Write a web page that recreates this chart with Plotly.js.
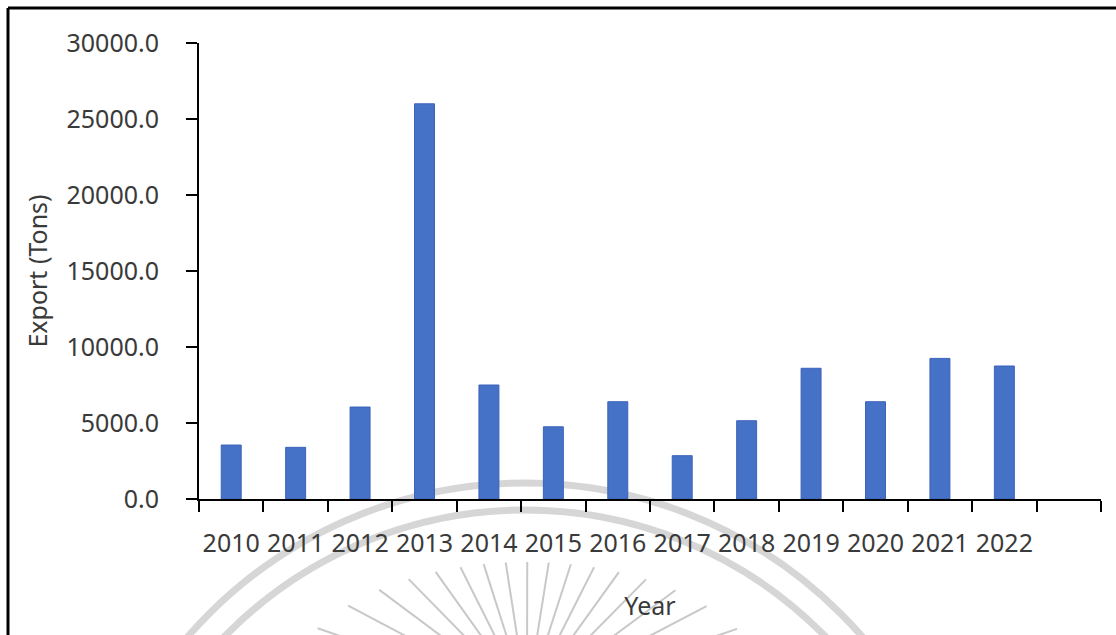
<!DOCTYPE html>
<html>
<head>
<meta charset="utf-8">
<script src="https://cdn.plot.ly/plotly-3.0.1.min.js"></script>
<style>
  html, body { margin: 0; padding: 0; background: #ffffff; }
  #chart { width: 1116px; height: 635px; }
</style>
</head>
<body>
<div id="chart"></div>
<script>
// Yearly export volume, in tons
const years = ['2010', '2011', '2012', '2013', '2014', '2015', '2016',
               '2017', '2018', '2019', '2020', '2021', '2022'];
const exportTons = [3550, 3400, 6050, 26000, 7500, 4750, 6400,
                    2850, 5150, 8600, 6400, 9250, 8750];
// one spare slot after the last year keeps the axis running on
const xCategories = years.concat([' ']);
const yTicks = [0, 5000, 10000, 15000, 20000, 25000, 30000];

// plot-area edges in page pixels
const L = 199, R = 1101, T = 43, B = 499;
const px = x => (x - L) / (R - L);
const py = y => (B - y) / (B - T);

const shapes = [];

// frame along the left and top of the figure
shapes.push({type: 'line', xref: 'paper', yref: 'paper', layer: 'above',
  x0: px(8), x1: px(8), y0: py(8), y1: py(640),
  line: {color: '#000000', width: 3}});
shapes.push({type: 'line', xref: 'paper', yref: 'paper', layer: 'above',
  x0: px(8), x1: px(1125), y0: py(8), y1: py(8),
  line: {color: '#000000', width: 3}});

// faint emblem behind the chart: two rings and a fan of rays
const cx = 525, cy = 930;
[447, 420].forEach(r => {
  shapes.push({type: 'circle', xref: 'paper', yref: 'paper', layer: 'below',
    x0: px(cx - r), x1: px(cx + r), y0: py(cy + r), y1: py(cy - r),
    line: {color: 'rgba(200,200,200,0.75)', width: 7}});
});
const rx = 527, ry = 700;
for (let a = -80; a <= 80.1; a += 8.9) {
  const t = a * Math.PI / 180;
  const s = Math.sin(t), c = Math.cos(t);
  // rays start on a flat ellipse and run in toward the hub
  const k = 1 / Math.sqrt((s / 245) ** 2 + (c / 138) ** 2);
  shapes.push({type: 'line', xref: 'paper', yref: 'paper', layer: 'below',
    x0: px(rx + s * k), y0: py(ry - c * k),
    x1: px(rx + s * 40), y1: py(ry - c * 40),
    line: {color: 'rgba(190,190,190,0.85)', width: 2}});
}

const trace = {
  type: 'bar',
  x: years,
  y: exportTons,
  marker: {color: '#4571c7', line: {color: '#3b63ba', width: 1}},
  hoverinfo: 'x+y'
};

const axisFont = {family: 'Noto Sans, sans-serif', size: 25, color: '#3a3a3a'};

const layout = {
  width: 1116,
  height: 635,
  margin: {l: L, r: 1116 - R, t: T, b: 635 - B, pad: 0},
  paper_bgcolor: '#ffffff',
  plot_bgcolor: 'rgba(0,0,0,0)',
  showlegend: false,
  bargap: 0.69,
  font: axisFont,
  xaxis: {
    type: 'category',
    categoryorder: 'array',
    categoryarray: xCategories,
    range: [-0.5, xCategories.length - 0.5],
    tickson: 'boundaries',
    tickangle: 0,
    ticks: 'outside',
    ticklen: 11,
    tickwidth: 2,
    tickcolor: '#000000',
    showline: true,
    linecolor: '#000000',
    linewidth: 2,
    showgrid: false,
    zeroline: false,
    tickfont: axisFont,
    ticklabelstandoff: 21,
    title: {text: 'Year', font: axisFont, standoff: 39},
    fixedrange: true
  },
  yaxis: {
    range: [0, 30000],
    tickmode: 'array',
    tickvals: yTicks,
    tickformat: '.1f',
    ticks: 'outside',
    ticklen: 11,
    tickwidth: 2,
    tickcolor: '#000000',
    showline: true,
    linecolor: '#000000',
    linewidth: 2,
    showgrid: false,
    zeroline: false,
    tickfont: axisFont,
    ticklabelstandoff: 22,
    title: {text: 'Export (Tons)', font: axisFont, standoff: 12},
    fixedrange: true
  },
  shapes: shapes
};

Plotly.newPlot('chart', [trace], layout, {displayModeBar: false, staticPlot: true});
</script>
</body>
</html>
